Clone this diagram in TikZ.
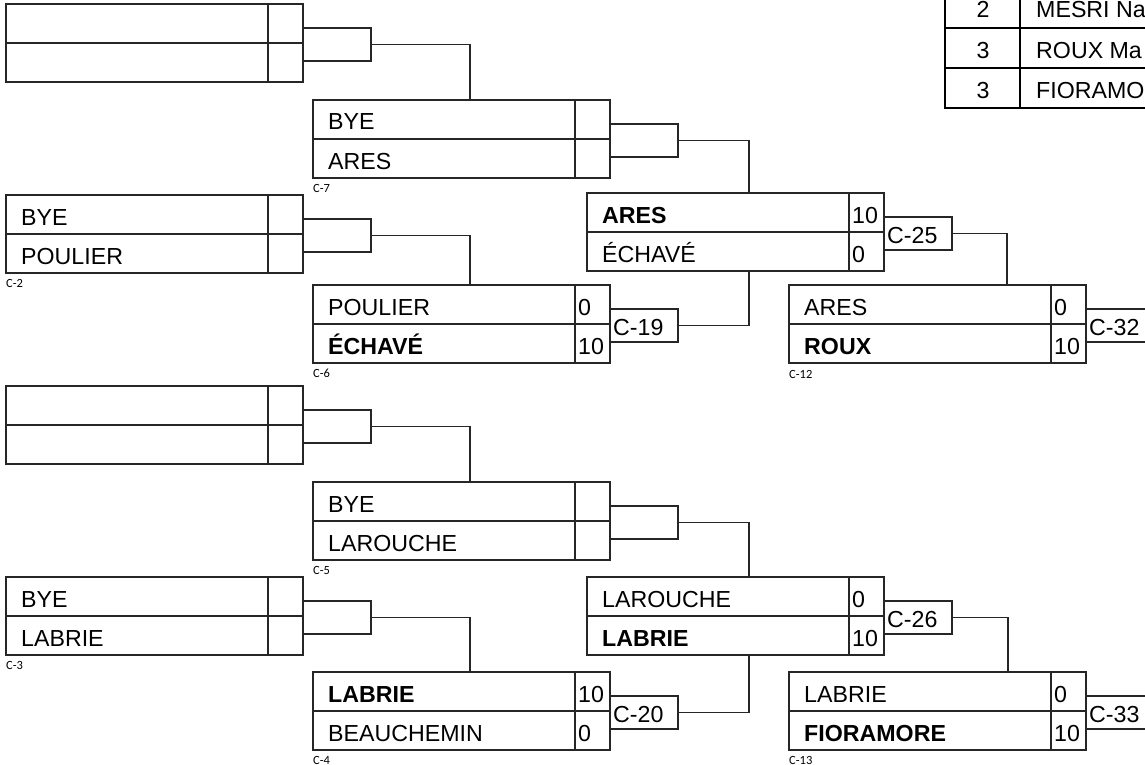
\documentclass[tikz,border=0pt]{standalone}
\usepackage{fontspec}
\setmainfont{Liberation Sans}
\newfontfamily\lblfont{Carlito}
\tikzset{
  ln/.style={line width=1.4pt, draw=black!85},
  mbox/.style={draw=black!85, line width=1.4pt, minimum width=297pt, minimum height=78pt, inner sep=0pt, outer sep=0pt, anchor=north west},
  cbox/.style={draw=black!85, line width=1.4pt, minimum width=68pt, minimum height=33pt, inner sep=0pt, outer sep=0pt, anchor=north west},
  ntext/.style={anchor=base west, inner sep=0pt, font=\fontsize{23.2}{27}\selectfont},
  ctext/.style={anchor=base west, inner sep=0pt, font=\fontsize{23.2}{27}\selectfont},
  lbl/.style={anchor=base west, inner sep=0pt, font=\lblfont\fontsize{12.5}{14}\selectfont},
  ttext/.style={anchor=base, inner sep=0pt, font=\fontsize{23.2}{27}\selectfont},
}
\newcommand\mbx[8]{%
  \node[mbox] (#1) at (#2,#3) {};
  \draw[ln] (#1.west) -- (#1.east);
  \draw[ln] ([xshift=262pt]#1.north west) -- ([xshift=262pt]#1.south west);
  \node[ntext] (#1-a) at ([xshift=15pt,yshift=-30pt]#1.north west) {#4};
  \node[ntext] (#1-b) at ([xshift=15pt,yshift=-69pt]#1.north west) {#5};
  \node[ntext] (#1-sa) at ([xshift=265pt,yshift=-30pt]#1.north west) {#6};
  \node[ntext] (#1-sb) at ([xshift=265pt,yshift=-69pt]#1.north west) {#7};
  \node[cbox] (#1-c) at ([yshift=-24pt]#1.north east) {};
  \node[ctext] (#1-ct) at ([xshift=3pt,yshift=7pt]#1-c.south west) {#8};
}
\begin{document}
\begin{tikzpicture}[x=1pt,y=-1pt]
\useasboundingbox (0,0) rectangle (1145,765);
% top-right table
\draw[line width=2.4pt] (945,-12) rectangle (1170,108);
\draw[line width=1.2pt] (945,28) -- (1170,28);
\draw[line width=1.2pt] (945,68) -- (1170,68);
\draw[line width=1.2pt] (1020,-12) -- (1020,108);
\node[ttext] (t1n) at (983,18) {2};
\node[ntext] (t1t) at (1036,18) {MESRI Na};
\node[ttext] (t2n) at (983,59) {3};
\node[ntext] (t2t) at (1036,59) {ROUX Ma};
\node[ttext] (t3n) at (983,99) {3};
\node[ntext] (t3t) at (1036,99) {FIORAMO};
% matches
\mbx{b1}{6}{4}{}{}{}{}{}
\mbx{c7}{313}{100}{BYE}{ARES}{}{}{}
\mbx{c2}{6}{195}{BYE}{POULIER}{}{}{}
\mbx{ma}{587}{193}{\textbf{ARES}}{ÉCHAVÉ}{10}{0}{C-25}
\mbx{c6}{313}{285}{POULIER}{\textbf{ÉCHAVÉ}}{0}{10}{C-19}
\mbx{c12}{789}{285}{ARES}{\textbf{ROUX}}{0}{10}{C-32}
\mbx{b4}{6}{386}{}{}{}{}{}
\mbx{c5}{313}{482}{BYE}{LAROUCHE}{}{}{}
\mbx{c3}{6}{577}{BYE}{LABRIE}{}{}{}
\mbx{mb}{587}{577}{LAROUCHE}{\textbf{LABRIE}}{0}{10}{C-26}
\mbx{c4}{313}{672}{\textbf{LABRIE}}{BEAUCHEMIN}{10}{0}{C-20}
\mbx{c13}{789}{672}{LABRIE}{\textbf{FIORAMORE}}{0}{10}{C-33}
% labels
\node[lbl] (l7) at ([yshift=-14pt]c7.south west) {C-7};
\node[lbl] (l2) at ([yshift=-14pt]c2.south west) {C-2};
\node[lbl] (l6) at ([yshift=-14pt]c6.south west) {C-6};
\node[lbl] (l12) at ([yshift=-15pt]c12.south west) {C-12};
\node[lbl] (l5) at ([yshift=-14pt]c5.south west) {C-5};
\node[lbl] (l3) at ([yshift=-14pt]c3.south west) {C-3};
\node[lbl] (l4) at ([yshift=-14pt]c4.south west) {C-4};
\node[lbl] (l13) at ([yshift=-14pt]c13.south west) {C-13};
% connectors
\draw[ln] (b1-c.east) -| ([xshift=157pt]c7.north west);
\draw[ln] (c2-c.east) -| ([xshift=157pt]c6.north west);
\draw[ln] (c7-c.east) -| ([xshift=162pt]ma.north west);
\draw[ln] (c6-c.east) -| ([xshift=162pt]ma.south west);
\draw[ln] (ma-c.east) -| ([xshift=218pt]c12.north west);
\draw[ln] (b4-c.east) -| ([xshift=157pt]c5.north west);
\draw[ln] (c3-c.east) -| ([xshift=157pt]c4.north west);
\draw[ln] (c5-c.east) -| ([xshift=162pt]mb.north west);
\draw[ln] (c4-c.east) -| ([xshift=162pt]mb.south west);
\draw[ln] (mb-c.east) -| ([xshift=219pt]c13.north west);
\end{tikzpicture}
\end{document}
